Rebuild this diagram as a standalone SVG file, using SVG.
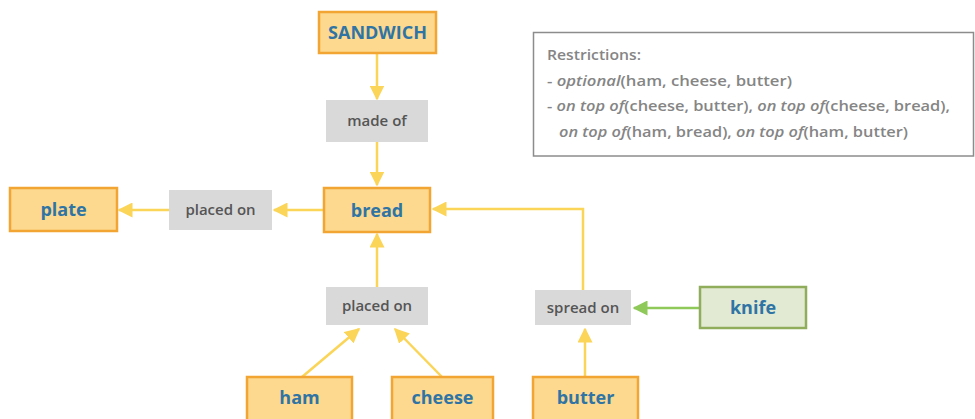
<svg xmlns="http://www.w3.org/2000/svg" width="975" height="419" viewBox="0 0 975 419">
  <style>
    .concept rect { fill: #fdd98f; stroke: #f2a532; stroke-width: 2.5; }
    .concept text { font-family: "Open Sans", "Liberation Sans", sans-serif; font-weight: bold; font-size: 18px; fill: #2f74a4; text-anchor: middle; }
    .tool rect { fill: #e2ead3; stroke: #90ad5c; stroke-width: 2.5; }
    .tool text { font-family: "Open Sans", "Liberation Sans", sans-serif; font-weight: bold; font-size: 18px; fill: #2f74a4; text-anchor: middle; }
    .rel rect { fill: #d9d9d9; }
    .rel text { font-family: "Open Sans", "Liberation Sans", sans-serif; font-weight: 600; font-size: 15px; fill: #555555; text-anchor: middle; }
    .link { fill: none; stroke: #fbd558; stroke-width: 2.5; marker-end: url(#arrowY); }
    .link-g { fill: none; stroke: #8ec95a; stroke-width: 2.5; marker-end: url(#arrowG); }
    .note text { font-family: "Open Sans", "Liberation Sans", sans-serif; font-weight: 600; font-size: 15px; fill: #858585; }
  </style>
  <defs>
    <marker id="arrowY" viewBox="0 0 10 10" refX="9" refY="5" markerWidth="6" markerHeight="6" markerUnits="strokeWidth" orient="auto">
      <path d="M0,0 L10,5 L0,10 z" fill="#fbd558"/>
    </marker>
    <marker id="arrowG" viewBox="0 0 10 10" refX="9" refY="5" markerWidth="6" markerHeight="6" markerUnits="strokeWidth" orient="auto">
      <path d="M0,0 L10,5 L0,10 z" fill="#8ec95a"/>
    </marker>
  </defs>

  <g id="connectors">
    <path class="link" d="M377,54 L377,99"/>
    <path class="link" d="M377,142 L377,185"/>
    <path class="link" d="M323,210 L274,210"/>
    <path class="link" d="M169,210 L119,210"/>
    <path class="link" d="M377,287 L377,234"/>
    <path class="link" d="M302,377 L359,329"/>
    <path class="link" d="M442,377 L395,329"/>
    <path class="link" d="M583,290 L583,209 L433,209"/>
    <path class="link" d="M585,377 L585,329"/>
    <path class="link-g" d="M700,308 L634,308"/>
  </g>

  <g id="sandwich" class="concept">
    <rect x="319" y="12" width="117" height="41"/>
    <text x="377.5" y="38.5">SANDWICH</text>
  </g>
  <g id="made-of" class="rel">
    <rect x="326" y="100" width="102" height="42"/>
    <text x="377" y="126">made of</text>
  </g>
  <g id="bread" class="concept">
    <rect x="324" y="188" width="106" height="44"/>
    <text x="377" y="216.5">bread</text>
  </g>
  <g id="placed-on-plate" class="rel">
    <rect x="169" y="190" width="103" height="40"/>
    <text x="220.5" y="215">placed on</text>
  </g>
  <g id="plate" class="concept">
    <rect x="10" y="188" width="107" height="43"/>
    <text x="63.5" y="216">plate</text>
  </g>
  <g id="placed-on-bread" class="rel">
    <rect x="326" y="287" width="102" height="38"/>
    <text x="377" y="311">placed on</text>
  </g>
  <g id="ham" class="concept">
    <rect x="247" y="377" width="105" height="46"/>
    <text x="299.5" y="404">ham</text>
  </g>
  <g id="cheese" class="concept">
    <rect x="392" y="377" width="101" height="46"/>
    <text x="442.5" y="404">cheese</text>
  </g>
  <g id="spread-on" class="rel">
    <rect x="535" y="290" width="96" height="35"/>
    <text x="583" y="312.5">spread on</text>
  </g>
  <g id="knife" class="tool">
    <rect x="700" y="287" width="106" height="41"/>
    <text x="753" y="314">knife</text>
  </g>
  <g id="butter" class="concept">
    <rect x="533" y="377" width="105" height="46"/>
    <text x="585.5" y="404">butter</text>
  </g>

  <g id="restrictions" class="note">
    <rect x="533.5" y="32.5" width="440" height="123.5" fill="#ffffff" stroke="#8c8c8c" stroke-width="1.5"/>
    <text x="547" y="60" textLength="94" lengthAdjust="spacingAndGlyphs">Restrictions:</text>
    <text x="547" y="85.5" textLength="245" lengthAdjust="spacingAndGlyphs">-  <tspan font-style="italic">optional</tspan>(ham, cheese, butter)</text>
    <text x="547" y="111" textLength="403" lengthAdjust="spacingAndGlyphs">-  <tspan font-style="italic">on top of</tspan>(cheese, butter), <tspan font-style="italic">on top of</tspan>(cheese, bread),</text>
    <text x="559" y="136.5" textLength="349" lengthAdjust="spacingAndGlyphs"><tspan font-style="italic">on top of</tspan>(ham, bread), <tspan font-style="italic">on top of</tspan>(ham, butter)</text>
  </g>
</svg>
